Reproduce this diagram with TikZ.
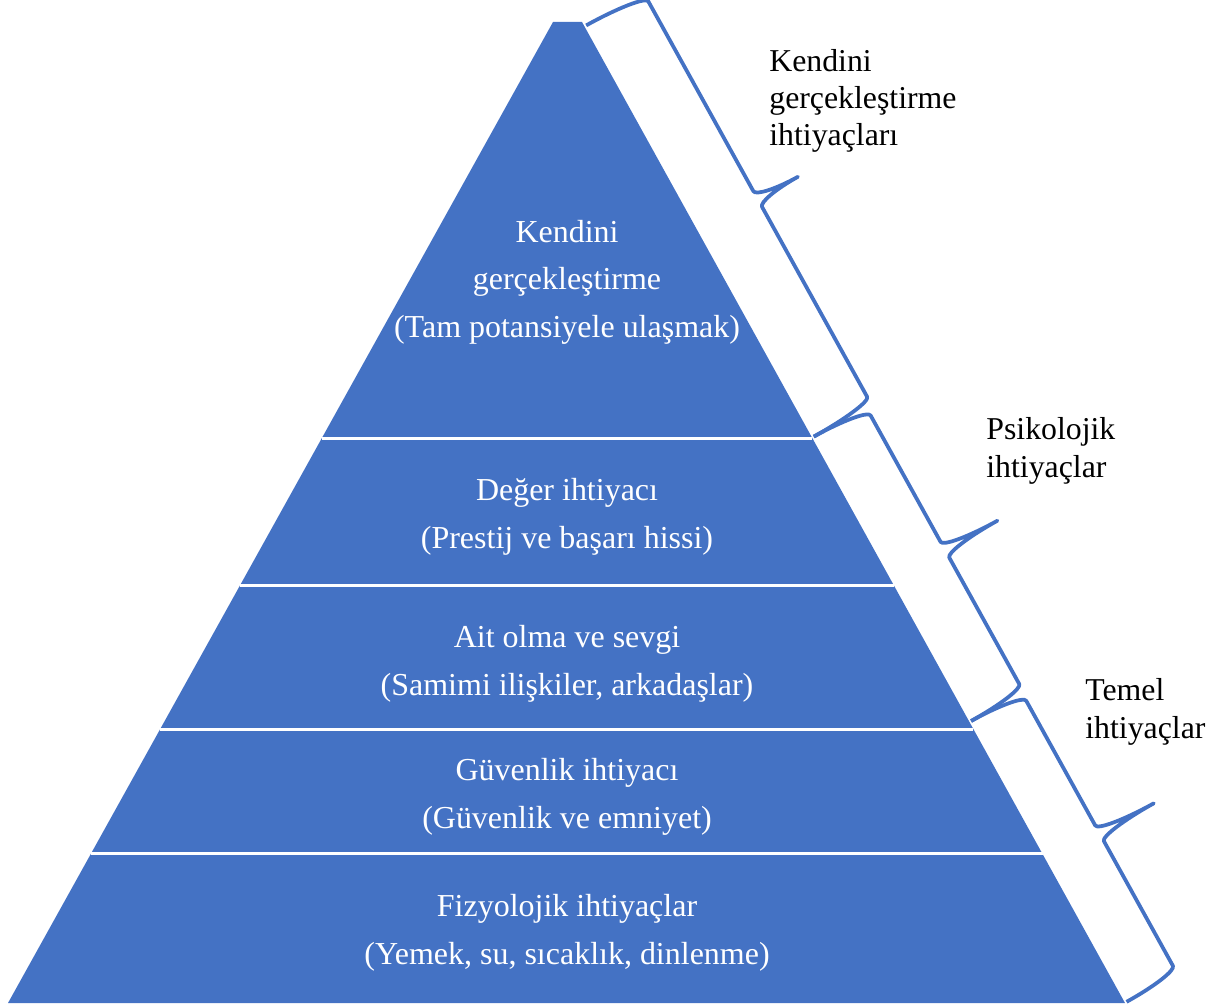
\documentclass[tikz,border=0pt]{standalone}
\usepackage{fontspec}
\setmainfont{Liberation Serif}
\usetikzlibrary{calc}
\definecolor{pyrblue}{RGB}{68,114,196}

\begin{document}
\begin{tikzpicture}[x=0.02cm,y=0.02cm,
  layertext/.style={text=white,align=center,font=\fontsize{18.2}{27}\selectfont},
  sidetext/.style={text=black,align=left,anchor=west,inner sep=0pt,font=\fontsize{18.1}{21.2}\selectfont},
  divider/.style={white,line width=0.06cm},
  bracepath/.style={pyrblue,line width=0.075cm,line join=round}]
\useasboundingbox (0,0) rectangle (1222,1007);

% pyramid
\coordinate (topL) at (553,985);
\coordinate (topR) at (582,985);
\coordinate (botR) at (1125,4);
\coordinate (botL) at (8,4);
\fill[pyrblue] (topL) -- (topR) -- (botR) -- (botL) -- cycle;
\foreach \t in {0.4241,0.5749,0.7207,0.8481}
  \draw[divider] ($(topL)!\t!(botL)$) -- ($(topR)!\t!(botR)$);

\node[layertext] (self) at (567,725) {Kendini\\gerçekleştirme\\(Tam potansiyele ulaşmak)};
\node[layertext] (esteem) at (567,490) {Değer ihtiyacı\\(Prestij ve başarı hissi)};
\node[layertext] (love) at (567,343) {Ait olma ve sevgi\\(Samimi ilişkiler, arkadaşlar)};
\node[layertext] (safety) at (567,210) {Güvenlik ihtiyacı\\(Güvenlik ve emniyet)};
\node[layertext] (physio) at (567,74) {Fizyolojik ihtiyaçlar\\(Yemek, su, sıcaklık, dinlenme)};

% braces along the right slope
\begin{scope}[shift={(topR)},rotate=-61.04]
\foreach \a/\b/\h/\p in {5/475/68/114, 475/800/62/122, 800/1121/60/122}{
  \pgfmathsetmacro\m{(\a+\b)/2}
  \draw[bracepath] (\a,2) arc[start angle=180,end angle=90,x radius=9,y radius=\h-2]
    -- (\m-9,\h) arc[start angle=270,end angle=360,x radius=9,y radius=\p-\h]
    arc[start angle=180,end angle=270,x radius=9,y radius=\p-\h]
    -- (\b-9,\h) arc[start angle=90,end angle=0,x radius=9,y radius=\h-2];
}
\end{scope}

\node[sidetext] (selfneeds) at (769,906) {Kendini\\gerçekleştirme\\ihtiyaçları};
\node[sidetext] (psychneeds) at (986,556) {Psikolojik\\ihtiyaçlar};
\node[sidetext] (basicneeds) at (1085,295) {Temel\\ihtiyaçlar};

\end{tikzpicture}
\end{document}
